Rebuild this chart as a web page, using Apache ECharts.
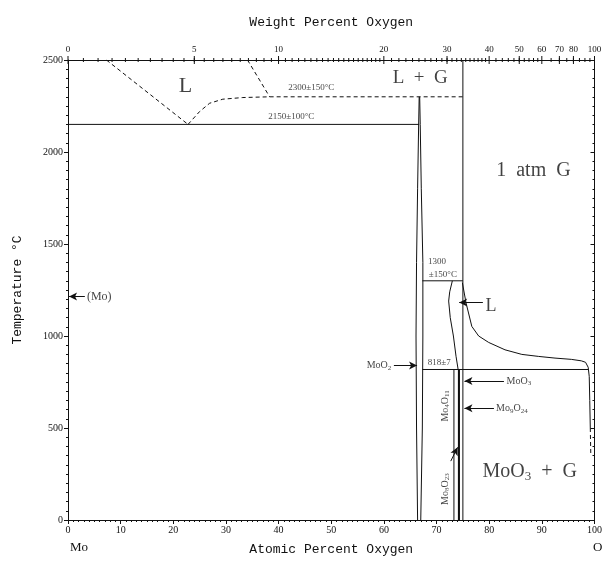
<!DOCTYPE html>
<html>
<head>
<meta charset="utf-8">
<script src="https://cdn.jsdelivr.net/npm/echarts@6/dist/echarts.min.js"></script>
<style>
  html, body { margin: 0; padding: 0; background: #fff; }
  #chart { width: 605px; height: 561px; }
</style>
</head>
<body>
<div id="chart"></div>
<script>
// Mo–O phase diagram. Points are [atomic % O, temperature °C].
const liquidusMoSide   = [[7.3, 2500], [22.8, 2150]];
const liquidusGap      = [[22.8, 2150], [25, 2220], [26.9, 2265], [29.4, 2287], [33.2, 2296], [38.3, 2300]];
const gapUpper         = [[34.1, 2500], [38.3, 2300]];
const monotectic2300   = [[38.3, 2300], [75, 2300]];
const eutectic2150     = [[0, 2150], [66.7, 2150]];
const moo2Left         = [[66.7, 2300], [66.6, 2150], [66.4, 1800], [66.2, 1400], [66.1, 1000], [66.2, 500], [66.4, 0]];
const moo2Right        = [[66.8, 2300], [66.9, 2150], [67.1, 1800], [67.4, 1400], [67.4, 1000], [67.3, 500], [67.0, 0]];
const boundary75       = [[75, 2500], [75, 818]];
const peritectic1300   = [[67.3, 1300], [75, 1300]];
const liquidLeft       = [[73.0, 1300], [72.5, 1240], [72.3, 1190], [72.6, 1100], [73.2, 1000], [73.7, 890], [74.1, 818]];
const liquidRight      = [[74.9, 1290], [75.6, 1180], [76.7, 1052], [78, 1000], [79.9, 965], [83, 925], [86.2, 900],
                          [89.4, 889], [92.5, 880], [95.6, 873], [97.5, 865], [98.3, 857], [98.8, 830], [99.0, 780],
                          [99.1, 650], [99.2, 500]];
const liquidRightTail  = [[99.2, 500], [99.3, 350]];
const eutectic818      = [[67.3, 818], [98.8, 818]];
const mo4o11           = [[73.3, 0], [73.3, 818]];
const mo8o23           = [[74.2, 0], [74.2, 818]];
const mo9o26           = [[74.3, 0], [74.3, 818]];
const moo3             = [[75, 0], [75, 818]];

// Top scale: weight percent oxygen
const wtMajor = [0, 5, 10, 20, 30, 40, 50, 60, 70, 80, 100];
const wtMinor = [];
for (let w = 0.5; w < 20; w += 0.5) wtMinor.push(w);
for (let w = 21; w < 40; w += 1) wtMinor.push(w);
for (let w = 42; w < 60; w += 2) wtMinor.push(w);
for (let w = 65; w < 100; w += 5) wtMinor.push(w);

const M_MO = 95.95, M_O = 16.0;
function atFromWt(w) {
  if (w >= 100) return 100;
  const o = w / M_O, m = (100 - w) / M_MO;
  return 100 * o / (o + m);
}

const FONT = 'Liberation Serif';
const INK = '#111';

function seg(data, dashed, width) {
  return {
    type: 'line', data: data, symbol: 'none', silent: true, animation: false,
    lineStyle: { color: INK, width: width || 1, type: dashed ? [4, 3] : 'solid' },
    z: 3
  };
}

const subRich = {
  b: { fontFamily: FONT, fontSize: 10, color: INK },
  s: { fontFamily: FONT, fontSize: 7, color: INK, verticalAlign: 'bottom', padding: [5, 0, 0, 0] },
  big: { fontFamily: FONT, fontSize: 20, color: INK },
  bigs: { fontFamily: FONT, fontSize: 13, color: INK, verticalAlign: 'bottom', padding: [9, 0, 0, 0] }
};

// text annotations anchored in data space
function note(x, t, text, opts) {
  opts = opts || {};
  return {
    value: [x, t],
    label: {
      show: true, formatter: text, position: 'inside',
      align: opts.align || 'center', verticalAlign: 'middle',
      rotate: opts.rotate || 0,
      fontFamily: FONT, fontSize: opts.size || 10, color: INK,
      rich: subRich
    }
  };
}

const notes = [
  note(22.3, 2355, 'L', { size: 22 }),
  note(66.9, 2400, 'L  +  G', { size: 19 }),
  note(88.4, 1900, '1  atm  G', { size: 20 }),
  note(46.2, 2348, '2300±150°C', { size: 9 }),
  note(42.4, 2190, '2150±100°C', { size: 9 }),
  note(70.1, 1405, '1300', { size: 9 }),
  note(71.2, 1334, '±150°C', { size: 9 }),
  note(70.5, 857, '818±7', { size: 9 }),
  note(3.6, 1215, '(Mo)', { size: 12, align: 'left' }),
  note(79.3, 1160, 'L', { size: 18, align: 'left' }),
  note(61.4, 840, '{b|MoO}{s|2}', { align: 'right' }),
  note(83.3, 755, '{b|MoO}{s|3}', { align: 'left' }),
  note(81.3, 607, '{b|Mo}{s|9}{b|O}{s|24}', { align: 'left' }),
  note(71.6, 620, '{b|Mo}{s|4}{b|O}{s|11}', { rotate: 90 }),
  note(71.6, 168, '{b|Mo}{s|8}{b|O}{s|23}', { rotate: 90 }),
  note(87.7, 260, '{big|MoO}{bigs|3}{big|  +  G}', { size: 20 })
];

function arrow(from, to) {
  return [{ coord: from }, { coord: to }];
}

const arrows = [
  arrow([3.2, 1215], [0.2, 1215]),
  arrow([78.8, 1182], [74.3, 1182]),
  arrow([61.9, 840], [66.3, 840]),
  arrow([82.8, 755], [75.3, 755]),
  arrow([80.9, 607], [75.3, 607]),
  arrow([72.7, 320], [74.0, 395])
];

const tickData = wtMajor.map(w => [atFromWt(w), 1, w]).concat(wtMinor.map(w => [atFromWt(w), 0, w]));

const chart = echarts.init(document.getElementById('chart'), null, { renderer: 'canvas' });
chart.setOption({
  animation: false,
  backgroundColor: '#fff',
  grid: { left: 68, right: 9, top: 60, bottom: 40 },
  xAxis: [{
    type: 'value', min: 0, max: 100, interval: 10, position: 'bottom',
    axisLine: { onZero: false, lineStyle: { color: INK, width: 1 } },
    axisTick: { length: 4, lineStyle: { color: INK } },
    minorTick: { show: true, splitNumber: 10, length: 2, lineStyle: { color: INK } },
    axisLabel: { fontFamily: FONT, fontSize: 10, color: INK, margin: 5, formatter: v => String(v) },
    splitLine: { show: false },
    name: 'Atomic Percent Oxygen', nameLocation: 'middle', nameGap: 23,
    nameTextStyle: { fontFamily: 'Liberation Mono', fontSize: 13, color: INK }
  }, {
    type: 'value', min: 0, max: 100, position: 'top',
    axisLine: { onZero: false, lineStyle: { color: INK, width: 1 } },
    axisTick: { show: false }, axisLabel: { show: false }, splitLine: { show: false },
    name: 'Weight Percent Oxygen', nameLocation: 'middle', nameGap: 31,
    nameTextStyle: { fontFamily: 'Liberation Mono', fontSize: 13, color: INK }
  }],
  yAxis: [{
    type: 'value', min: 0, max: 2500, interval: 500, position: 'left',
    axisLine: { onZero: false, lineStyle: { color: INK, width: 1 } },
    axisTick: { length: 4, lineStyle: { color: INK } },
    minorTick: { show: true, splitNumber: 10, length: 2, lineStyle: { color: INK } },
    axisLabel: { fontFamily: FONT, fontSize: 10, color: INK, margin: 5, formatter: v => String(v) },
    splitLine: { show: false },
    name: 'Temperature °C', nameLocation: 'middle', nameGap: 44, nameRotate: 90,
    nameTextStyle: { fontFamily: 'Liberation Mono', fontSize: 13, color: INK }
  }, {
    type: 'value', min: 0, max: 2500, interval: 500, position: 'right',
    axisLine: { onZero: false, lineStyle: { color: INK, width: 1 } },
    axisTick: { inside: true, length: 4, lineStyle: { color: INK } },
    minorTick: { show: true, splitNumber: 10, length: 2, lineStyle: { color: INK } },
    axisLabel: { show: false }, splitLine: { show: false }
  }],
  graphic: [
    { type: 'text', left: 70, top: 541, style: { text: 'Mo', font: '13px "Liberation Serif"', fill: INK } },
    { type: 'text', left: 593, top: 541, style: { text: 'O', font: '13px "Liberation Serif"', fill: INK } }
  ],
  series: [
    seg(liquidusMoSide, true),
    seg(liquidusGap, true),
    seg(gapUpper, true),
    seg(monotectic2300, true),
    seg(eutectic2150),
    seg(moo2Left),
    seg(moo2Right),
    seg(boundary75),
    seg(peritectic1300),
    seg(liquidLeft),
    seg(liquidRight),
    seg(liquidRightTail, true),
    seg(eutectic818),
    seg(mo4o11),
    seg(mo8o23, false, 1.5),
    seg(mo9o26, false, 1.5),
    seg(moo3),
    {
      type: 'scatter', data: notes, symbolSize: 0, silent: true, z: 5,
      markLine: {
        silent: true, symbol: ['none', 'arrow'], symbolSize: [6, 8], animation: false,
        label: { show: false },
        lineStyle: { color: INK, width: 1, type: 'solid' },
        data: arrows
      }
    },
    {
      type: 'custom', clip: false, silent: true, data: tickData, z: 6,
      renderItem: function (params, api) {
        const at = api.value(0), major = api.value(1), w = api.value(2);
        const p = api.coord([at, 2500]);
        const len = major ? 4 : 2;
        const children = [{
          type: 'line',
          shape: { x1: p[0], y1: p[1] - len, x2: p[0], y2: p[1] + len },
          style: { stroke: INK, lineWidth: 1 }
        }];
        if (major) {
          children.push({
            type: 'text',
            style: { text: String(w), x: p[0], y: p[1] - 6, align: 'center', verticalAlign: 'bottom',
                     font: '9px "Liberation Serif"', fill: INK }
          });
        }
        return { type: 'group', children: children };
      }
    }
  ]
});
</script>
</body>
</html>
